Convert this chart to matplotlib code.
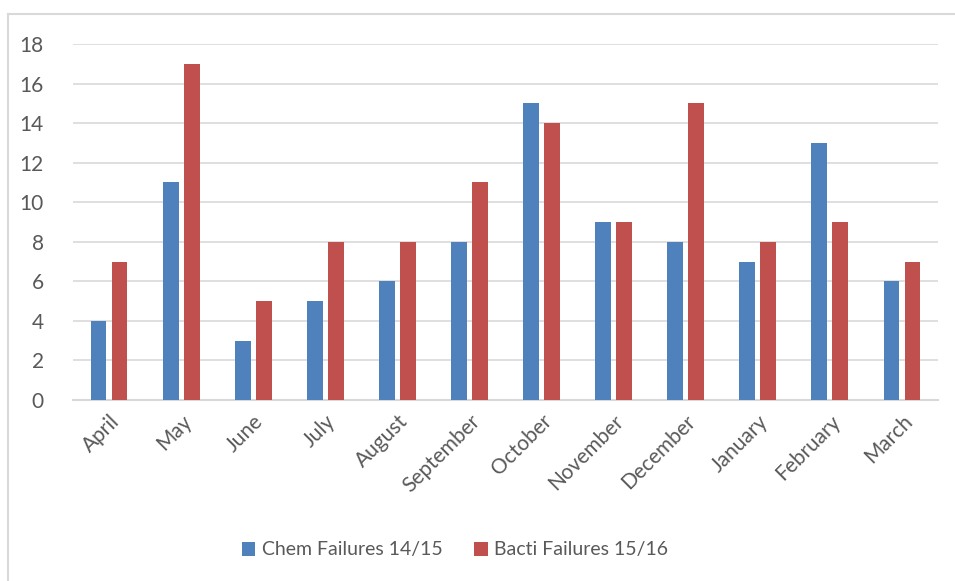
import matplotlib.pyplot as plt
from matplotlib.lines import Line2D
import numpy as np

months = ["April", "May", "June", "July", "August", "September", "October",
          "November", "December", "January", "February", "March"]
chem = [4, 11, 3, 5, 6, 8, 15, 9, 8, 7, 13, 6]
bacti = [7, 17, 5, 8, 8, 11, 14, 9, 15, 8, 9, 7]
yticks = [0, 2, 4, 6, 8, 10, 12, 14, 16, 18]

BLUE = "#4f81bd"
RED = "#c0504d"
GRAY = "#595959"
GRID = "#d9d9d9"

plt.rcParams["font.family"] = ["Lato", "DejaVu Sans"]

fig = plt.figure(figsize=(9.55, 5.81), dpi=100)
ax = fig.add_axes([73 / 955, 1 - 400 / 581, 865 / 955, 356 / 581])

x = np.arange(len(months))
w = 0.22
ax.bar(x - 0.146, chem, w, color=BLUE, label="Chem Failures 14/15", zorder=3)
ax.bar(x + 0.146, bacti, w, color=RED, label="Bacti Failures 15/16", zorder=3)

ax.set_xlim(-0.5, len(months) - 0.5)
ax.set_ylim(0, 18)
ax.set_yticks(yticks)
ax.yaxis.grid(True, color=GRID, linewidth=1.2, zorder=0)
ax.tick_params(axis="both", length=0, labelcolor=GRAY, labelsize=15)
ax.tick_params(axis="y", pad=21)
ax.set_xticks(x)
ax.set_xticklabels(months, rotation=45, ha="right", rotation_mode="anchor")
ax.tick_params(axis="x", pad=8)

for s in ["top", "right", "left"]:
    ax.spines[s].set_visible(False)
ax.spines["bottom"].set_color(GRID)
ax.spines["bottom"].set_linewidth(1.5)

# chart frame (left and top edges visible)
fig.add_artist(Line2D([8 / 955, 8 / 955], [0, 1 - 14 / 581], color=GRID, linewidth=1.5))
fig.add_artist(Line2D([8 / 955, 1], [1 - 14 / 581, 1 - 14 / 581], color=GRID, linewidth=1.5))

fig.legend(loc="center", bbox_to_anchor=(455 / 955, 1 - 550 / 581), ncol=2,
           frameon=False, fontsize=14, labelcolor=GRAY, handlelength=0.7,
           handleheight=0.7, handletextpad=0.35, columnspacing=1.6)

fig.savefig("out.png", dpi=100)
